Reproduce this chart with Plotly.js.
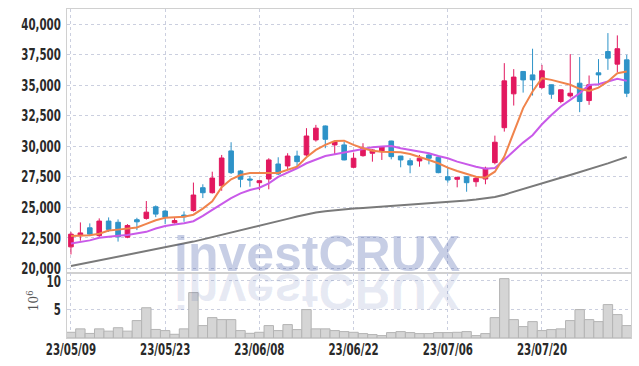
<!DOCTYPE html>
<html>
<head>
<meta charset="utf-8">
<script src="https://cdn.plot.ly/plotly-3.0.1.min.js"></script>
<style>
html,body{margin:0;padding:0;background:#fff;}
#chart{width:639px;height:366px;}
</style>
</head>
<body>
<div id="chart"></div>
<script>
const dates = ['23/05/09','23/05/10','23/05/11','23/05/12','23/05/15','23/05/16','23/05/17','23/05/18','23/05/19','23/05/22',
'23/05/23','23/05/24','23/05/25','23/05/26','23/05/30','23/05/31','23/06/01','23/06/02','23/06/05','23/06/07',
'23/06/08','23/06/09','23/06/12','23/06/13','23/06/14','23/06/15','23/06/16','23/06/19','23/06/20','23/06/21',
'23/06/22','23/06/23','23/06/26','23/06/27','23/06/28','23/06/29','23/06/30','23/07/03','23/07/04','23/07/05',
'23/07/06','23/07/07','23/07/10','23/07/11','23/07/12','23/07/13','23/07/14','23/07/17','23/07/18','23/07/19',
'23/07/20','23/07/21','23/07/24','23/07/25','23/07/26','23/07/27','23/07/28','23/07/31','23/08/01','23/08/02'];

const openP = [21770,22690,23330,22690,23880,23780,22560,23990,24100,25050,
24700,23740,24370,24740,26610,26200,26770,29620,27980,27320,
27020,27320,28550,28390,29200,29290,30520,31660,30110,30110,
28280,29230,29430,29560,30430,29200,28820,28800,29290,29100,
27510,27300,27510,27100,27320,28660,31520,34290,36120,35840,
34800,35030,33660,34120,35160,33740,36010,37750,36720,37070];

const highP = [23000,23770,23690,24100,24180,24020,23630,24150,25520,25160,
24780,24120,24670,27030,26890,27920,29290,30330,28060,27570,
27240,29020,29100,29430,29640,31480,31750,31700,30400,30380,
29480,30250,29750,29990,30450,29210,29020,29290,29430,29150,
28330,27480,27530,27510,28330,30870,36800,36310,36130,37980,
36660,35050,34640,37540,37300,35790,37130,39260,39070,37480];

const lowP = [21150,22280,22650,22570,22990,22200,22480,23140,24000,24200,
23630,23670,23820,24650,25760,26130,26360,27730,26640,26690,
26420,26480,27650,28060,28200,29200,30380,29840,29290,28850,
28200,29150,28740,28880,28930,28280,27790,28330,28520,27790,
27020,26640,26280,26690,26890,28520,31200,33330,34390,34150,
34700,33880,33520,33980,32790,33390,34970,36250,36070,34020];

const closeP = [22810,22910,22810,23880,23200,22590,23520,23820,24610,24450,
24200,23920,24230,26010,26200,27400,29040,27840,27300,27240,
27180,28880,27730,29200,28740,30840,31480,30570,30380,28880,
29020,29840,29700,29970,29150,28880,28470,29020,29020,27840,
27240,27460,27020,27380,28200,30330,35350,35660,35430,35430,
36170,34260,34620,34340,33660,35030,35840,37210,37980,34340];

// volume in millions of shares
const volume = [1.0,1.6,0.8,1.6,1.2,1.8,1.2,3.05,5.3,1.5,
1.3,0.65,1.6,7.96,2.17,3.57,3.22,3.22,1.3,0.82,
1.0,2.17,1.3,2.35,1.47,4.98,1.6,1.6,1.3,1.12,
1.0,0.77,0.6,0.42,0.95,1.12,0.95,0.77,0.77,0.95,
0.95,1.0,1.12,0.42,0.77,3.57,10.4,3.22,2.0,2.87,
1.3,1.47,1.6,3.05,4.98,3.22,2.87,5.85,4.1,2.17];

// moving averages
const ma5 = [22650,22700,22720,22850,23100,23180,23250,23350,23650,23950,
24150,24200,24230,24400,24900,25500,26650,27300,27650,27810,
27840,27810,27810,28060,28330,29100,29700,30110,30430,30460,
30110,29840,29640,29560,29530,29510,29370,29150,28880,28610,
28250,27980,27750,27510,27430,27920,29150,31200,33120,34480,
35570,35430,35250,35030,34700,34530,34800,35300,35980,36120];

const ma10 = [22040,22150,22300,22520,22620,22680,22740,22850,23000,23270,
23480,23600,23700,23870,24300,24800,25300,25760,26150,26420,
26610,26970,27500,27840,28200,28610,28930,29200,29350,29500,
29640,29800,29920,29980,30020,29840,29700,29530,29430,29200,
29020,28740,28500,28320,28170,28220,28900,29600,30300,30900,
31800,32560,33250,33800,34340,35020,35080,35300,35520,35350];

const ma60 = [20200,20350,20500,20660,20810,20960,21110,21260,21420,21570,
21730,21880,22040,22200,22380,22560,22740,22920,23100,23280,
23470,23660,23860,24060,24260,24440,24580,24690,24780,24850,
24900,24950,25000,25060,25110,25170,25220,25280,25330,25380,
25420,25490,25560,25640,25720,25850,26040,26260,26480,26700,
26950,27200,27420,27650,27880,28100,28350,28600,28870,29120];

const tickDates = ['23/05/09','23/05/23','23/06/08','23/06/22','23/07/06','23/07/20'];
const priceTicks = [20000,22500,25000,27500,30000,32500,35000,37500,40000];
const volumeTicks = [5,10];
const volumeUnit = '10<sup>6</sup>';

const UP = '#e2185f', DOWN = '#2e93c8';
const tickFont = {family:"'DejaVu Sans', sans-serif", size:16, color:'#2a2a2a', weight:'bold'};
const GRID = '#cbcfdf';

const traces = [
  {type:'bar', x:dates, y:volume, xaxis:'x', yaxis:'y2',
   marker:{color:'#d5d5d5', line:{color:'#b4b4b4', width:1}}, hoverinfo:'skip'},
  {type:'candlestick', x:dates, open:openP, high:highP, low:lowP, close:closeP,
   xaxis:'x', yaxis:'y', whiskerwidth:0,
   increasing:{line:{color:UP, width:1}, fillcolor:UP},
   decreasing:{line:{color:DOWN, width:1}, fillcolor:DOWN}, hoverinfo:'skip'},
  {type:'scatter', mode:'lines', x:dates, y:ma60, xaxis:'x', yaxis:'y',
   line:{color:'#7a7a7a', width:2}, hoverinfo:'skip'},
  {type:'scatter', mode:'lines', x:dates, y:ma10, xaxis:'x', yaxis:'y',
   line:{color:'#c95ae9', width:2}, hoverinfo:'skip'},
  {type:'scatter', mode:'lines', x:dates, y:ma5, xaxis:'x', yaxis:'y',
   line:{color:'#f0844c', width:2}, hoverinfo:'skip'}
];

const WM_SIZE = 50;
const wmFont = {family:"'Liberation Sans', Arial, sans-serif", size:WM_SIZE, color:'rgba(55,80,160,0.28)', weight:'bold'};
const layout = {
  width:639, height:366,
  margin:{l:67, r:8, t:9, b:28, pad:0},
  paper_bgcolor:'#fff', plot_bgcolor:'#fff',
  showlegend:false, bargap:0,
  xaxis:{type:'category', categoryorder:'array', categoryarray:dates,
    range:[-0.42, 59.45], anchor:'y2',
    tickvals:tickDates, ticktext:tickDates, ticks:'', ticklabelstandoff:-3,
    showgrid:true, gridcolor:GRID, griddash:'dot', gridwidth:1,
    showline:true, linecolor:'#d0d0d0', linewidth:1, mirror:'all',
    tickfont:tickFont, rangeslider:{visible:false}, fixedrange:true},
  yaxis:{domain:[0.199,1], range:[19670,41230], tickvals:priceTicks, tickformat:',d',
    ticks:'', ticklabelstandoff:2, showgrid:true, gridcolor:GRID, griddash:'dot', gridwidth:1,
    showline:true, linecolor:'#d0d0d0', linewidth:1, mirror:true,
    zeroline:false, tickfont:tickFont, fixedrange:true},
  yaxis2:{domain:[0,0.199], range:[0,11.47], tickvals:volumeTicks,
    ticks:'', ticklabelstandoff:2, showgrid:true, gridcolor:GRID, griddash:'dot', gridwidth:1,
    showline:true, linecolor:'#d0d0d0', linewidth:1, mirror:true,
    zeroline:false, tickfont:tickFont, fixedrange:true},
  annotations:[
    {text:'<b>investCRUX</b>', xref:'paper', yref:'paper', x:0.444, y:0.165, xanchor:'center', yanchor:'bottom',
     showarrow:false, font:wmFont},
    {text:'<b>investCRUX</b>', xref:'paper', yref:'paper', x:0.444, y:0.165, xanchor:'center', yanchor:'bottom',
     showarrow:false, font:Object.assign({}, wmFont, {color:'rgba(55,80,160,0.12)'})},
    {text:volumeUnit, xref:'paper', yref:'paper', x:-0.0603, y:0.115, xanchor:'center', yanchor:'middle',
     textangle:-90, showarrow:false, font:{family:"'DejaVu Serif', serif", size:12, color:'#555'}}
  ]
};

function finish(gd) {
  // narrow the tick labels to the condensed look of the reference
  const ref = Array.from(gd.querySelectorAll('g.ytick text')).find(t => t.textContent === '40,000');
  if (ref && !ref.hasAttribute('textLength')) {
    const w = ref.getComputedTextLength();
    const f = 39.5 / w;
    if (f < 0.97) {
      gd.querySelectorAll('g.xtick text, g.ytick text, g.y2tick text').forEach(function(t){
        const L = t.getComputedTextLength();
        t.setAttribute('textLength', (L * f).toFixed(2));
        t.setAttribute('lengthAdjust', 'spacingAndGlyphs');
      });
    }
  }
  // mirrored reflection of the watermark
  const groups = gd.querySelectorAll('g.annotation');
  if (groups.length < 2) return;
  const t0 = groups[0].querySelector('text');
  const r = t0.getBoundingClientRect();
  const baseline = r.bottom - 0.212 * WM_SIZE;
  groups[1].setAttribute('transform', 'translate(0,' + (2*baseline + 2) + ') scale(1,-1)');
}

Plotly.newPlot('chart', traces, layout, {staticPlot:true, displayModeBar:false}).then(function(gd){
  finish(gd);
});
</script>
</body>
</html>
